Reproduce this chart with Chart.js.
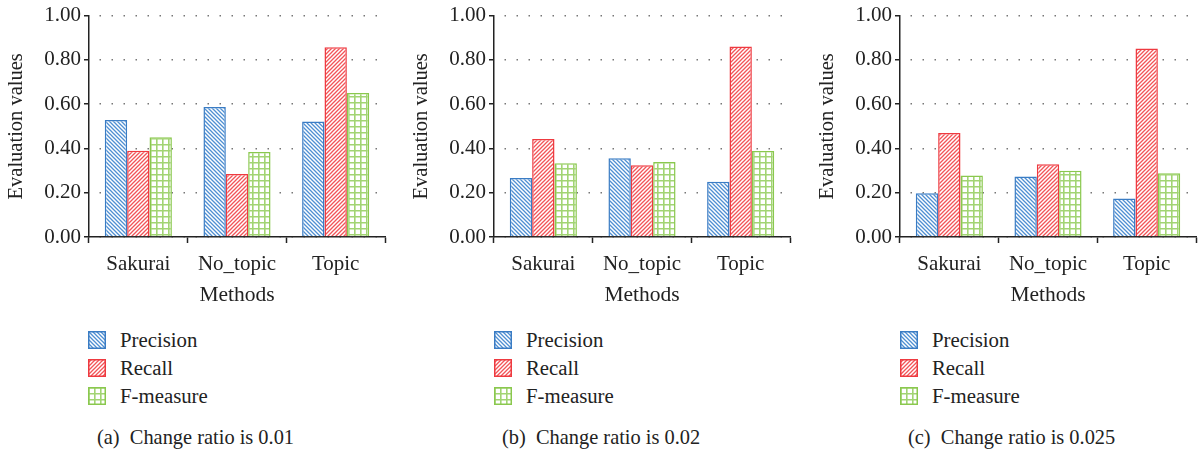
<!DOCTYPE html>
<html>
<head>
<meta charset="utf-8">
<script src="https://cdn.jsdelivr.net/npm/chart.js@4/dist/chart.umd.min.js"></script>
<style>
  html, body { margin: 0; padding: 0; background: #fff; }
  body { width: 1201px; height: 453px; position: relative; overflow: hidden; font-family: "Liberation Serif", serif; color: #222; }
  .panel { position: absolute; top: 0; width: 405px; height: 453px; }
  .panel canvas.chart { position: absolute; left: 0; top: 0; }
  .legend { position: absolute; left: 88px; top: 331px; }
  .item { position: relative; height: 28px; }
  .item canvas { position: absolute; left: 0; top: 0px; }
  .item span { position: absolute; left: 32px; top: -2px; font-size: 20.8px; line-height: 21px; white-space: nowrap; }
  .caption { position: absolute; left: 97px; top: 426px; font-size: 20.4px; line-height: 22px; white-space: pre; }
</style>
</head>
<body>
<script>
// ---- data ----
const categories = ["Sakurai", "No_topic", "Topic"];
const seriesNames = ["Precision", "Recall", "F-measure"];
const yTicks = [0.0, 0.2, 0.4, 0.6, 0.8, 1.0];
const captions = ["(a)  Change ratio is 0.01", "(b)  Change ratio is 0.02", "(c)  Change ratio is 0.025"];
const xTitle = "Methods";
const yTitle = "Evaluation values";

// chart (a) ratio 0.01
const precisionA = [0.528, 0.587, 0.522];
const recallA    = [0.390, 0.284, 0.857];
const fmeasureA  = [0.450, 0.384, 0.650];
// chart (b) ratio 0.02
const precisionB = [0.266, 0.356, 0.249];
const recallB    = [0.443, 0.324, 0.860];
const fmeasureB  = [0.333, 0.339, 0.389];
// chart (c) ratio 0.025
const precisionC = [0.198, 0.273, 0.174];
const recallC    = [0.470, 0.329, 0.851];
const fmeasureC  = [0.278, 0.299, 0.288];

const panelData = [
  [precisionA, recallA, fmeasureA],
  [precisionB, recallB, fmeasureB],
  [precisionC, recallC, fmeasureC]
];

// ---- styles ----
const borderColors = ["#3a7cc4", "#ee3a40", "#8ac84e"];
const hatchColors  = ["#4f8fd2", "#f25458", "#a2d473"];
const panelLefts = [0, 405, 811];

function makePattern(kind) {
  const c = document.createElement('canvas');
  const s = kind === 2 ? 6 : 4;
  c.width = s; c.height = s;
  const g = c.getContext('2d');
  g.fillStyle = '#ffffff';
  g.fillRect(0, 0, s, s);
  g.strokeStyle = hatchColors[kind];
  g.lineWidth = kind === 2 ? 1.6 : 1.3;
  g.beginPath();
  if (kind === 0) {        // backslash
    g.moveTo(-1, -1); g.lineTo(s + 1, s + 1);
    g.moveTo(-1, s - 1); g.lineTo(1, s + 1);
    g.moveTo(s - 1, -1); g.lineTo(s + 1, 1);
  } else if (kind === 1) { // slash
    g.moveTo(-1, s + 1); g.lineTo(s + 1, -1);
    g.moveTo(-1, 1); g.lineTo(1, -1);
    g.moveTo(s - 1, s + 1); g.lineTo(s + 1, s - 1);
  } else {                 // grid
    g.moveTo(0, 0.8); g.lineTo(s, 0.8);
    g.moveTo(0.8, 0); g.lineTo(0.8, s);
  }
  g.stroke();
  return c;
}
const patternTiles = [makePattern(0), makePattern(1), makePattern(2)];

panelData.forEach((series, p) => {
  const panel = document.createElement('div');
  panel.className = 'panel';
  panel.style.left = panelLefts[p] + 'px';
  document.body.appendChild(panel);

  const cv = document.createElement('canvas');
  cv.className = 'chart';
  cv.width = 405; cv.height = 310;
  cv.style.width = '405px'; cv.style.height = '310px';
  panel.appendChild(cv);
  const ctx = cv.getContext('2d');
  const patterns = patternTiles.map(t => ctx.createPattern(t, 'repeat'));

  new Chart(ctx, {
    type: 'bar',
    data: {
      labels: categories,
      datasets: series.map((vals, i) => ({
        label: seriesNames[i],
        data: vals,
        backgroundColor: patterns[i],
        borderColor: borderColors[i],
        borderWidth: 1.5,
        borderSkipped: 'start',
        categoryPercentage: 0.68,
        barPercentage: 1.0
      }))
    },
    options: {
      responsive: false,
      animation: false,
      devicePixelRatio: 1,
      layout: { padding: { top: 15, right: 20, left: 0, bottom: 0 } },
      plugins: { legend: { display: false }, tooltip: { enabled: false } },
      scales: {
        x: {
          afterFit: s => { s.height = 73; },
          grid: { display: true, offset: true, drawOnChartArea: false, drawTicks: true, tickLength: 6, tickColor: '#222', tickWidth: 1.5 },
          border: { display: true, color: '#222', width: 1.5 },
          ticks: { color: '#222', padding: 9, font: { family: 'Liberation Serif', size: 21 } },
          title: { display: true, text: xTitle, color: '#222', padding: { top: 0, bottom: 2 }, font: { family: 'Liberation Serif', size: 21.5 } }
        },
        y: {
          min: 0, max: 1,
          afterFit: s => { s.width = 89; },
          afterBuildTicks: s => { s.ticks = yTicks.map(v => ({ value: v })); },
          grid: { display: true, drawOnChartArea: true, drawTicks: true, tickLength: 5, tickColor: '#222', tickWidth: 1.5, color: '#777', lineWidth: 1.5 },
          border: { display: true, color: '#222', width: 1.5, dash: [1.5, 10.5], dashOffset: -10 },
          ticks: { color: '#222', padding: 3, callback: v => Number(v).toFixed(2), font: { family: 'Liberation Serif', size: 21 } },
          title: { display: true, text: yTitle, color: '#222', padding: { top: 4, bottom: 0 }, font: { family: 'Liberation Serif', size: 20.5 } }
        }
      }
    }
  });

  const legend = document.createElement('div');
  legend.className = 'legend';
  legend.style.left = (panelLefts[p] === 0 ? 88 : 89) + 'px';
  seriesNames.forEach((name, i) => {
    const item = document.createElement('div');
    item.className = 'item';
    const sw = document.createElement('canvas');
    sw.width = 18; sw.height = 18;
    const sg = sw.getContext('2d');
    sg.fillStyle = sg.createPattern(patternTiles[i], 'repeat');
    sg.fillRect(0, 0, 18, 18);
    sg.strokeStyle = borderColors[i];
    sg.lineWidth = 1.5;
    sg.strokeRect(0.75, 0.75, 16.5, 16.5);
    item.appendChild(sw);
    const sp = document.createElement('span');
    sp.textContent = name;
    item.appendChild(sp);
    legend.appendChild(item);
  });
  panel.appendChild(legend);

  const cap = document.createElement('div');
  cap.className = 'caption';
  cap.textContent = captions[p];
  panel.appendChild(cap);
});
</script>
</body>
</html>
